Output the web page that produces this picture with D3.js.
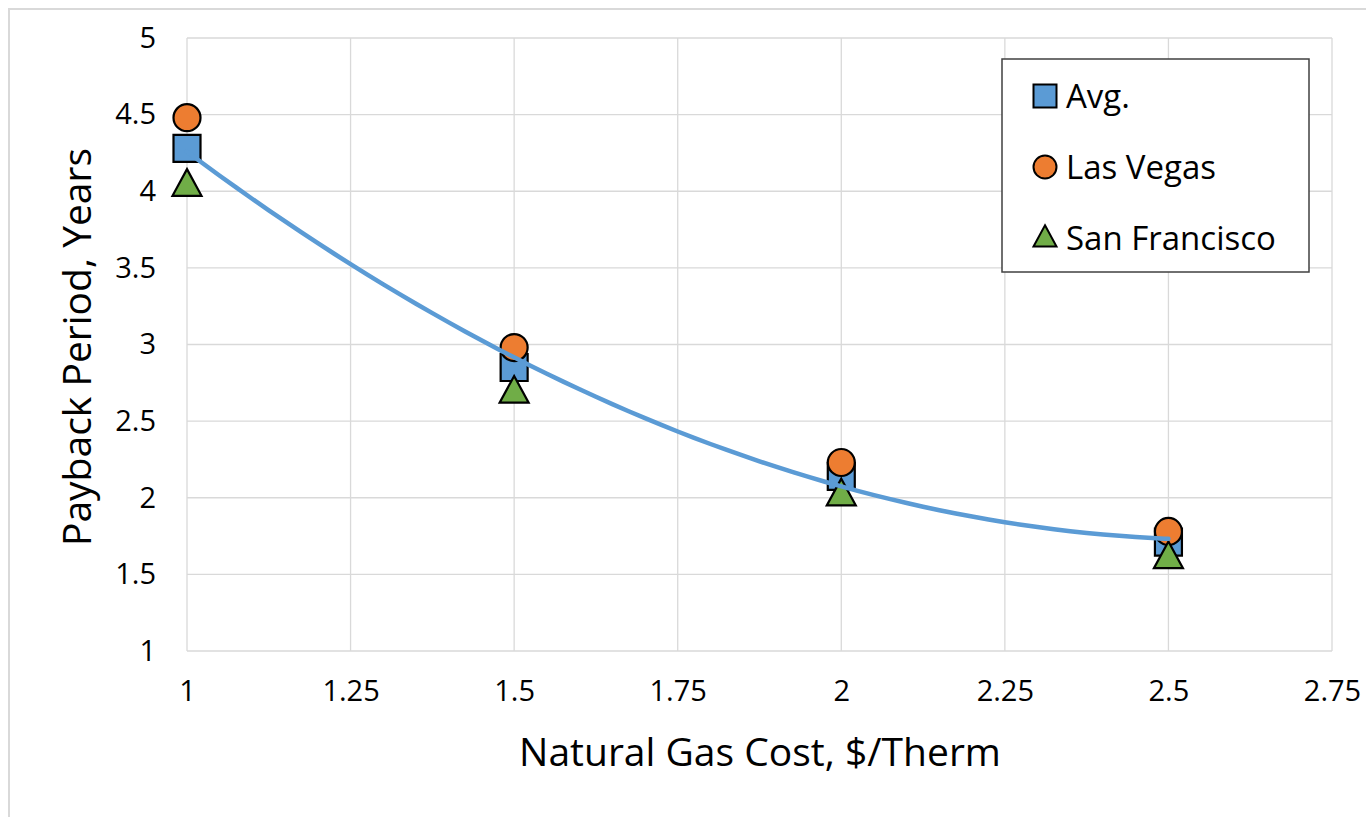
<!DOCTYPE html>
<html>
<head>
<meta charset="utf-8">
<script src="https://cdn.jsdelivr.net/npm/d3@7"></script>
<style>
  html, body { margin: 0; padding: 0; background: #fff; }
  svg { display: block; }
  svg text { font-family: "Open Sans", sans-serif; fill: #000; }
</style>
</head>
<body>
<div id="chart"></div>
<script>
// values
const gasCost = [1, 1.5, 2, 2.5];
const avgPayback = [4.28, 2.85, 2.14, 1.71];
const lasVegasPayback = [4.48, 2.98, 2.23, 1.78];
const sanFranciscoPayback = [4.04, 2.69, 2.02, 1.61];
const xTicks = [1, 1.25, 1.5, 1.75, 2, 2.25, 2.5, 2.75];
const yTicks = [1, 1.5, 2, 2.5, 3, 3.5, 4, 4.5, 5];

const series = [
    { name: "Avg.", shape: "square", color: "#5b9bd5", values: avgPayback },
    { name: "Las Vegas", shape: "circle", color: "#ed7d31", values: lasVegasPayback },
    { name: "San Francisco", shape: "triangle", color: "#70ad47", values: sanFranciscoPayback }
];

const width = 1366, height = 817;
const plot = { left: 187, top: 38, right: 1332, bottom: 651 };

const svg = d3.select("#chart").append("svg")
    .attr("width", width)
    .attr("height", height);

// outer chart frame
svg.append("rect")
    .attr("x", 9).attr("y", 9)
    .attr("width", width + 20).attr("height", height + 20)
    .attr("fill", "none")
    .attr("stroke", "#d9d9d9")
    .attr("stroke-width", 2);

const x = d3.scaleLinear().domain([1, 2.75]).range([plot.left, plot.right]);
const y = d3.scaleLinear().domain([1, 5]).range([plot.bottom, plot.top]);

// grid
const grid = svg.append("g").attr("class", "grid");
grid.selectAll(".vline").data(xTicks).enter().append("line")
    .attr("x1", d => x(d)).attr("x2", d => x(d))
    .attr("y1", plot.top).attr("y2", plot.bottom)
    .attr("stroke", "#d9d9d9").attr("stroke-width", 1.3);
grid.selectAll(".hline").data(yTicks).enter().append("line")
    .attr("x1", plot.left).attr("x2", plot.right)
    .attr("y1", d => y(d)).attr("y2", d => y(d))
    .attr("stroke", "#d9d9d9").attr("stroke-width", 1.3);

// axes (labels only, Excel style)
const xAxis = svg.append("g")
    .attr("transform", `translate(0, ${plot.bottom})`)
    .call(d3.axisBottom(x).tickValues(xTicks).tickSize(0).tickPadding(29).tickFormat(d => d3.format("")(d)));
xAxis.select(".domain").remove();
xAxis.attr("font-family", null).attr("font-size", null);
xAxis.selectAll("text").style("font-size", "29px");

const yAxis = svg.append("g")
    .attr("transform", `translate(${plot.left}, 0)`)
    .call(d3.axisLeft(y).tickValues(yTicks).tickSize(0).tickPadding(31).tickFormat(d => d3.format("")(d)));
yAxis.select(".domain").remove();
yAxis.attr("font-family", null).attr("font-size", null);
yAxis.selectAll("text").style("font-size", "29px");

// axis titles
svg.append("text")
    .attr("x", 760)
    .attr("y", 766)
    .attr("text-anchor", "middle")
    .style("font-size", "39px")
    .text("Natural Gas Cost, $/Therm");

svg.append("text")
    .attr("transform", `translate(91, 347) rotate(-90)`)
    .attr("text-anchor", "middle")
    .style("font-size", "39px")
    .text("Payback Period, Years");

// polynomial (order 2) trendline fitted to the averages
function polyFit2(xs, ys) {
    let s = [0, 0, 0, 0, 0], t = [0, 0, 0];
    xs.forEach((xi, i) => {
        for (let k = 0; k < 5; k++) s[k] += Math.pow(xi, k);
        for (let k = 0; k < 3; k++) t[k] += ys[i] * Math.pow(xi, k);
    });
    const A = [[s[0], s[1], s[2], t[0]], [s[1], s[2], s[3], t[1]], [s[2], s[3], s[4], t[2]]];
    for (let i = 0; i < 3; i++) {
        for (let j = i + 1; j < 3; j++) {
            const f = A[j][i] / A[i][i];
            for (let k = i; k < 4; k++) A[j][k] -= f * A[i][k];
        }
    }
    const c = [0, 0, 0];
    for (let i = 2; i >= 0; i--) {
        let v = A[i][3];
        for (let k = i + 1; k < 3; k++) v -= A[i][k] * c[k];
        c[i] = v / A[i][i];
    }
    return c;
}
const coef = polyFit2(gasCost, avgPayback);
const trendX = d3.range(gasCost[0], gasCost[gasCost.length - 1] + 0.001, 0.025);
const line = d3.line()
    .x(d => x(d))
    .y(d => y(coef[0] + coef[1] * d + coef[2] * d * d))
    .curve(d3.curveMonotoneX);

// markers
function symbolPath(shape, size) {
    if (shape === "square") return d3.symbol(d3.symbolSquare, size * size)();
    if (shape === "circle") return d3.symbol(d3.symbolCircle, Math.PI * size * size / 4)();
    // triangle: base = size, height a bit less
    const h = size * 0.92, w = size;
    return `M0,${-h * 0.6}L${w / 2},${h * 0.4}L${-w / 2},${h * 0.4}Z`;
}

series.forEach(s => {
    svg.append("g").selectAll("path").data(s.values).enter().append("path")
        .attr("d", symbolPath(s.shape, s.shape === "triangle" ? 29 : 27))
        .attr("transform", (d, i) => `translate(${x(gasCost[i])}, ${y(d)})`)
        .attr("fill", s.color)
        .attr("stroke", "#000")
        .attr("stroke-width", 2.2)
        .attr("stroke-linejoin", "miter");
});

svg.append("path")
    .datum(trendX)
    .attr("d", line)
    .attr("fill", "none")
    .attr("stroke", "#5b9bd5")
    .attr("stroke-width", 4.5)
    .attr("stroke-linecap", "round");

// legend
const legend = svg.append("g");
legend.append("rect")
    .attr("x", 1002).attr("y", 59)
    .attr("width", 307).attr("height", 213)
    .attr("fill", "#fff")
    .attr("stroke", "#404040")
    .attr("stroke-width", 1.5);

const legendItems = legend.selectAll(".item").data(series).enter().append("g")
    .attr("transform", (d, i) => `translate(1045, ${96 + i * 71})`);
legendItems.append("path")
    .attr("d", d => symbolPath(d.shape, 23))
    .attr("fill", d => d.color)
    .attr("stroke", "#000")
    .attr("stroke-width", 2);
legendItems.append("text")
    .attr("x", 21)
    .attr("dy", "0.36em")
    .style("font-size", "33px")
    .text(d => d.name);
</script>
</body>
</html>
